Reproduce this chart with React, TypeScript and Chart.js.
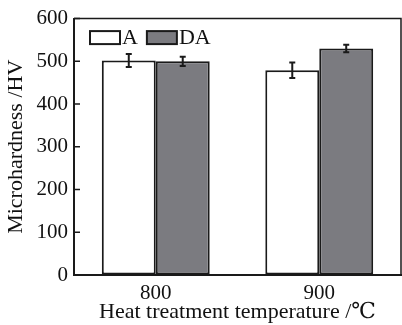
import React, { useEffect, useRef } from "react";
import { Chart, registerables } from "chart.js";

Chart.register(...registerables);

const categories = ["800", "900"];
const seriesA = [502, 479];
const seriesAErr = [15, 18];
const seriesDA = [500, 530];
const seriesDAErr = [11, 9];
const yTicks = [0, 100, 200, 300, 400, 500, 600];

const FONT = "'Liberation Serif', 'DejaVu Serif', serif";
const errors = [seriesAErr, seriesDAErr];

const errorBarPlugin = {
  id: "errorBars",
  afterDatasetsDraw(chart: any) {
    const ctx = chart.ctx;
    const y = chart.scales.y;
    ctx.save();
    ctx.strokeStyle = "#1a1a1a";
    ctx.lineWidth = 2;
    chart.data.datasets.forEach((ds: any, di: number) => {
      const meta = chart.getDatasetMeta(di);
      meta.data.forEach((bar: any, i: number) => {
        const v = ds.data[i];
        const e = errors[di][i];
        const top = y.getPixelForValue(v + e);
        const bot = y.getPixelForValue(v - e);
        const cap = 3;
        ctx.beginPath();
        ctx.moveTo(bar.x, top);
        ctx.lineTo(bar.x, bot);
        ctx.moveTo(bar.x - cap, top);
        ctx.lineTo(bar.x + cap, top);
        ctx.moveTo(bar.x - cap, bot);
        ctx.lineTo(bar.x + cap, bot);
        ctx.stroke();
      });
    });
    ctx.restore();
  },
};

const framePlugin = {
  id: "frame",
  afterDraw(chart: any) {
    const ctx = chart.ctx;
    const { left, right, top, bottom } = chart.chartArea;
    const y = chart.scales.y;
    ctx.save();
    ctx.strokeStyle = "#1a1a1a";
    ctx.lineWidth = 1.5;
    ctx.beginPath();
    ctx.moveTo(left, top);
    ctx.lineTo(right, top);
    ctx.lineTo(right, bottom);
    ctx.stroke();
    ctx.beginPath();
    y.ticks.forEach((t: any) => {
      const py = y.getPixelForValue(t.value);
      ctx.moveTo(left, py);
      ctx.lineTo(left + 6, py);
    });
    ctx.stroke();
    // legend
    ctx.font = `22px ${FONT}`;
    ctx.textBaseline = "middle";
    let x = left + 16;
    const ly = top + 19;
    chart.data.datasets.forEach((ds: any) => {
      ctx.fillStyle = ds.backgroundColor;
      ctx.fillRect(x, ly - 6.5, 30, 13);
      ctx.strokeStyle = "#1a1a1a";
      ctx.lineWidth = 2;
      ctx.strokeRect(x, ly - 6.5, 30, 13);
      ctx.fillStyle = "#111";
      ctx.fillText(ds.label, x + 32, ly + 1);
      x += 32 + ctx.measureText(ds.label).width + 9;
    });
    ctx.restore();
  },
};

export default function App() {
  const ref = useRef<HTMLCanvasElement>(null);
  useEffect(() => {
    document.body.style.margin = "0";
    const chart = new Chart(ref.current!, {
      type: "bar",
      data: {
        labels: categories,
        datasets: [
          {
            label: "A",
            data: seriesA,
            backgroundColor: "#ffffff",
            borderColor: "#1a1a1a",
            borderWidth: 2,
            borderSkipped: false,
          },
          {
            label: "DA",
            data: seriesDA,
            backgroundColor: "#7b7b80",
            borderColor: "#1a1a1a",
            borderWidth: 2,
            borderSkipped: false,
          },
        ],
      },
      options: {
        animation: false,
        responsive: false,
        devicePixelRatio: 1,
        layout: { padding: { top: 12, right: 1, left: 0, bottom: 0 } },
        plugins: { legend: { display: false }, tooltip: { enabled: false } },
        datasets: { bar: { barPercentage: 1, categoryPercentage: 0.66 } },
        scales: {
          x: {
            grid: { display: false, drawTicks: false },
            border: { display: true, color: "#1a1a1a", width: 2 },
            ticks: { color: "#111", font: { family: FONT, size: 21 }, padding: 6 },
            title: {
              display: true,
              text: "Heat treatment temperature /℃",
              color: "#111",
              font: { family: FONT, size: 22 },
              padding: { top: 0, bottom: 0 },
            },
            afterFit(s: any) {
              s.height = 50;
            },
          },
          y: {
            min: 0,
            max: 600,
            afterBuildTicks(s: any) {
              s.ticks = yTicks.map((v) => ({ value: v }));
            },
            grid: { drawOnChartArea: false, drawTicks: false },
            border: { display: true, color: "#1a1a1a", width: 2 },
            ticks: { color: "#111", font: { family: FONT, size: 21 }, padding: 6 },
            title: {
              display: true,
              text: "Microhardness /HV",
              color: "#111",
              font: { family: FONT, size: 22 },
              padding: { top: 3, bottom: 0 },
            },
            afterFit(s: any) {
              s.width = 74;
            },
          },
        },
      },
      plugins: [errorBarPlugin, framePlugin],
    });
    return () => chart.destroy();
  }, []);
  return (
    <div style={{ position: "relative", width: 402, height: 325, background: "#fff" }}>
      <canvas ref={ref} width={402} height={325} />
    </div>
  );
}
